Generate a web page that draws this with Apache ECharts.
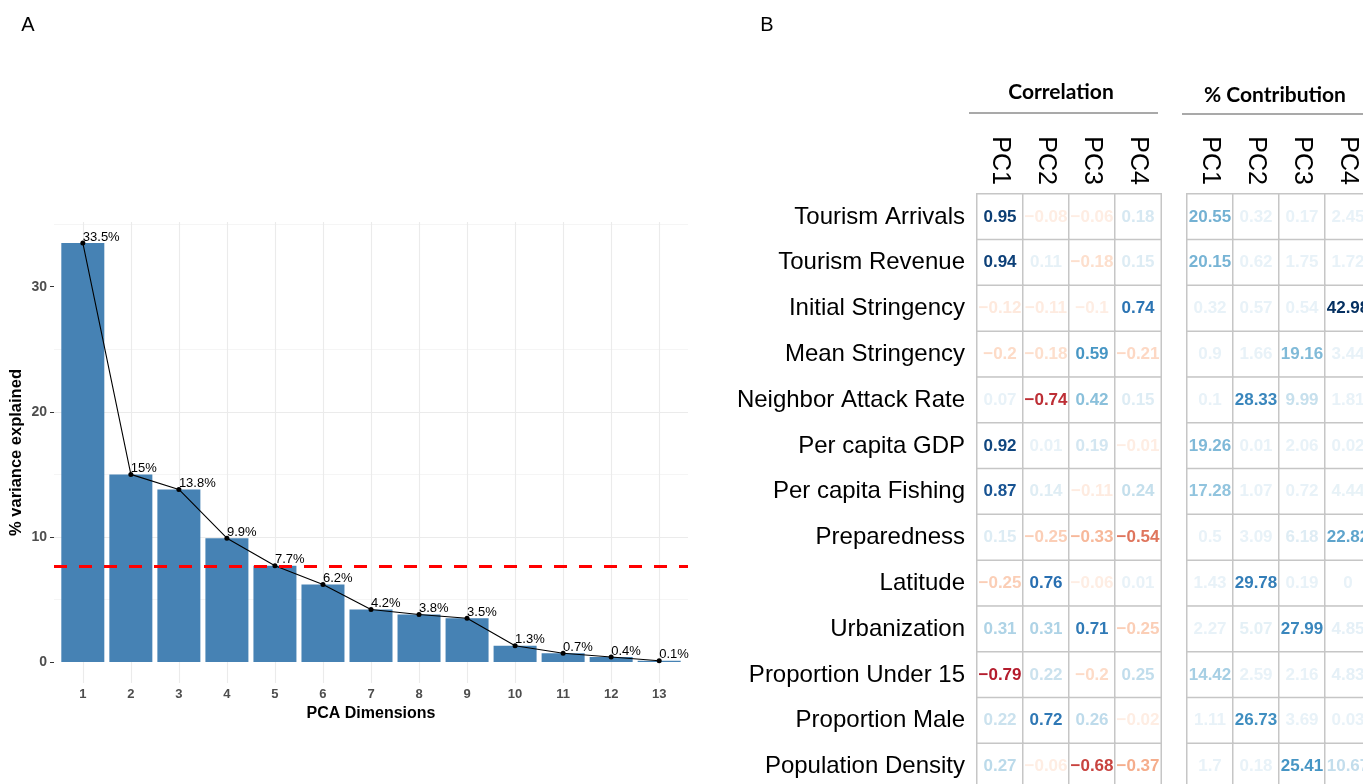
<!DOCTYPE html>
<html>
<head>
<meta charset="utf-8">
<script src="https://cdn.jsdelivr.net/npm/echarts@6/dist/echarts.min.js"></script>
<style>html,body{margin:0;padding:0;background:#fff}#c{width:1363px;height:784px}</style>
</head>
<body>
<div id="c"></div>
<script>
// ---------- Panel A data ----------
const dims = [1, 2, 3, 4, 5, 6, 7, 8, 9, 10, 11, 12, 13];
const variance = [33.5, 15, 13.8, 9.9, 7.7, 6.2, 4.2, 3.8, 3.5, 1.3, 0.7, 0.4, 0.1];
const yTicks = [0, 10, 20, 30];

// ---------- Panel B data ----------
const pcs = ['PC1', 'PC2', 'PC3', 'PC4'];
const variables = ['Tourism Arrivals', 'Tourism Revenue', 'Initial Stringency', 'Mean Stringency',
  'Neighbor Attack Rate', 'Per capita GDP', 'Per capita Fishing', 'Preparedness', 'Latitude',
  'Urbanization', 'Proportion Under 15', 'Proportion Male', 'Population Density'];
const corrPC1 = [0.95, 0.94, -0.12, -0.2, 0.07, 0.92, 0.87, 0.15, -0.25, 0.31, -0.79, 0.22, 0.27];
const corrPC2 = [-0.08, 0.11, -0.11, -0.18, -0.74, 0.01, 0.14, -0.25, 0.76, 0.31, 0.22, 0.72, -0.06];
const corrPC3 = [-0.06, -0.18, -0.1, 0.59, 0.42, 0.19, -0.11, -0.33, -0.06, 0.71, -0.2, 0.26, -0.68];
const corrPC4 = [0.18, 0.15, 0.74, -0.21, 0.15, -0.01, 0.24, -0.54, 0.01, -0.25, 0.25, -0.02, -0.37];
const contribPC1 = [20.55, 20.15, 0.32, 0.9, 0.1, 19.26, 17.28, 0.5, 1.43, 2.27, 14.42, 1.11, 1.7];
const contribPC2 = [0.32, 0.62, 0.57, 1.66, 28.33, 0.01, 1.07, 3.09, 29.78, 5.07, 2.59, 26.73, 0.18];
const contribPC3 = [0.17, 1.75, 0.54, 19.16, 9.99, 2.06, 0.72, 6.18, 0.19, 27.99, 2.16, 3.69, 25.41];
const contribPC4 = [2.45, 1.72, 42.98, 3.44, 1.81, 0.02, 4.44, 22.82, 0, 4.85, 4.83, 0.03, 10.67];

// ---------- colour helpers (RdBu, as corrplot) ----------
const rdbu = ['#67001F', '#B2182B', '#D6604D', '#F4A582', '#FDDBC7', '#FFFFFF',
              '#D1E5F0', '#92C5DE', '#4393C3', '#2166AC', '#053061'];
function hex2rgb(h) { return [parseInt(h.substr(1, 2), 16), parseInt(h.substr(3, 2), 16), parseInt(h.substr(5, 2), 16)]; }
function ramp(cols, t) {
  t = Math.max(0, Math.min(1, t));
  const p = t * (cols.length - 1);
  const i = Math.min(cols.length - 2, Math.floor(p));
  const f = p - i;
  const a = hex2rgb(cols[i]), b = hex2rgb(cols[i + 1]);
  const c = a.map((v, k) => Math.round(v + (b[k] - v) * f));
  return 'rgb(' + c.join(',') + ')';
}
const FLOOR = 0.1;
const corrColor = v => {
  const s = v < 0 ? -1 : 1;
  const m = Math.max(Math.abs(v), FLOOR);
  return ramp(rdbu, (s * m + 1) / 2);
};
const contribMax = Math.max(...contribPC1, ...contribPC2, ...contribPC3, ...contribPC4);
const contribColor = v => ramp(rdbu.slice(5), Math.max(v / contribMax, FLOOR));
const fmt = v => String(v).replace('-', '\u2212');

const FONT = 'Liberation Sans, Arial, Helvetica, sans-serif';

const corrCols = [corrPC1, corrPC2, corrPC3, corrPC4];
const contribCols = [contribPC1, contribPC2, contribPC3, contribPC4];
const corrData = [], contribData = [];
variables.forEach((name, r) => {
  pcs.forEach((pc, c) => {
    const v1 = corrCols[c][r];
    corrData.push({ value: [c, r, v1], label: { color: corrColor(v1) } });
    const v2 = contribCols[c][r];
    contribData.push({ value: [c, r, v2], label: { color: contribColor(v2) } });
  });
});

const screeData = dims.map((d, i) => [d, variance[i]]);

const heatAxisX = (gi) => ({
  gridIndex: gi, type: 'category', data: pcs, position: 'top',
  axisLine: { show: false }, axisTick: { show: false }, splitLine: { show: false },
  axisLabel: { rotate: 90, fontSize: 25, color: '#000', fontFamily: FONT, margin: 9 }
});
const heatAxisY = (gi, showLabels) => ({
  gridIndex: gi, type: 'category', data: variables, inverse: true,
  axisLine: { show: false }, axisTick: { show: false }, splitLine: { show: false },
  axisLabel: { show: showLabels, fontSize: 24, color: '#000', fontFamily: FONT, margin: 12 }
});
const heatSeries = (gi, data) => ({
  type: 'heatmap', xAxisIndex: gi, yAxisIndex: gi, data: data,
  itemStyle: { color: '#ffffff', borderColor: '#c6c6c6', borderWidth: 1.5 },
  label: { show: true, fontSize: 17, fontWeight: 'bold', fontFamily: FONT,
           formatter: p => fmt(p.value[2]) },
  emphasis: { disabled: true }, silent: true
});

const chart = echarts.init(document.getElementById('c'), null, { renderer: 'canvas' });
chart.setOption({
  backgroundColor: '#ffffff',
  animation: false,
  grid: [
    { left: 54, top: 222, width: 634, height: 461, outerBoundsMode: 'none', containLabel: false },
    { left: 977, top: 194, width: 184, height: 595.4, outerBoundsMode: 'none', containLabel: false },
    { left: 1187, top: 194, width: 184, height: 595.4, outerBoundsMode: 'none', containLabel: false }
  ],
  xAxis: [
    {
      gridIndex: 0, type: 'value', min: 0.4, max: 13.6, splitNumber: 13,
      axisLine: { show: false }, axisTick: { show: false },
      axisLabel: { customValues: dims, color: '#4d4d4d', fontWeight: 'bold', fontSize: 13, fontFamily: FONT, margin: 5 },
      splitLine: { show: true, showMinLine: false, showMaxLine: false, lineStyle: { color: '#ebebeb', width: 1.1 } },
      name: 'PCA Dimensions', nameLocation: 'middle', nameGap: 21,
      nameTextStyle: { color: '#000', fontWeight: 'bold', fontSize: 16, fontFamily: FONT }
    },
    heatAxisX(1),
    heatAxisX(2)
  ],
  yAxis: [
    {
      gridIndex: 0, type: 'value', min: -1.675, max: 35.175, splitNumber: 5,
      axisLine: { show: false },
      axisTick: { show: true, length: 4, customValues: yTicks, lineStyle: { color: '#333', width: 1 } },
      axisLabel: { customValues: yTicks, color: '#4d4d4d', fontWeight: 'bold', fontSize: 14, fontFamily: FONT, margin: 7 },
      splitLine: { show: true, showMinLine: false, showMaxLine: false, lineStyle: { color: '#ebebeb', width: 1.1 } },
      minorTick: { show: false, splitNumber: 2 },
      minorSplitLine: { show: true, lineStyle: { color: '#f2f2f2', width: 0.8 } },
      name: '% variance explained', nameLocation: 'middle', nameGap: 29,
      nameTextStyle: { color: '#000', fontWeight: 'bold', fontSize: 16.5, fontFamily: FONT }
    },
    heatAxisY(1, true),
    heatAxisY(2, false)
  ],
  graphic: [
    { type: 'text', style: { x: 28, y: 25, text: 'A', fontSize: 20, fontFamily: FONT, fill: '#000', align: 'center', verticalAlign: 'middle' } },
    { type: 'text', style: { x: 767, y: 25, text: 'B', fontSize: 20, fontFamily: FONT, fill: '#000', align: 'center', verticalAlign: 'middle' } },
    { type: 'text', style: { x: 1061, y: 92, text: 'Correlation', fontSize: 21, fontWeight: 'bold', fontFamily: 'Lato, sans-serif', fill: '#000', align: 'center', verticalAlign: 'middle' } },
    { type: 'text', style: { x: 1275, y: 95, text: '% Contribution', fontSize: 21, fontWeight: 'bold', fontFamily: 'Lato, sans-serif', fill: '#000', align: 'center', verticalAlign: 'middle' } },
    { type: 'line', shape: { x1: 969, y1: 113, x2: 1158, y2: 113 }, style: { stroke: '#555', lineWidth: 1.2 } },
    { type: 'line', shape: { x1: 1182, y1: 114, x2: 1363, y2: 114 }, style: { stroke: '#555', lineWidth: 1.2 } }
  ],
  series: [
    {
      type: 'bar', xAxisIndex: 0, yAxisIndex: 0, data: screeData, barWidth: 43,
      itemStyle: { color: '#4682B4' }, silent: true, z: 2,
      markLine: {
        silent: true, symbol: 'none', label: { show: false },
        lineStyle: { color: '#ff0000', type: [13, 12], width: 3 },
        data: [{ yAxis: 100 / dims.length }]
      }
    },
    {
      type: 'line', xAxisIndex: 0, yAxisIndex: 0, data: screeData, z: 4,
      symbol: 'circle', symbolSize: 5, lineStyle: { color: '#000', width: 1.1 },
      itemStyle: { color: '#000' }, silent: true,
      label: {
        show: true, position: [2.5, 3], align: 'left', verticalAlign: 'bottom',
        fontSize: 13, color: '#000', fontFamily: FONT,
        formatter: p => p.value[1] + '%'
      }
    },
    heatSeries(1, corrData),
    heatSeries(2, contribData)
  ]
});
</script>
</body>
</html>
